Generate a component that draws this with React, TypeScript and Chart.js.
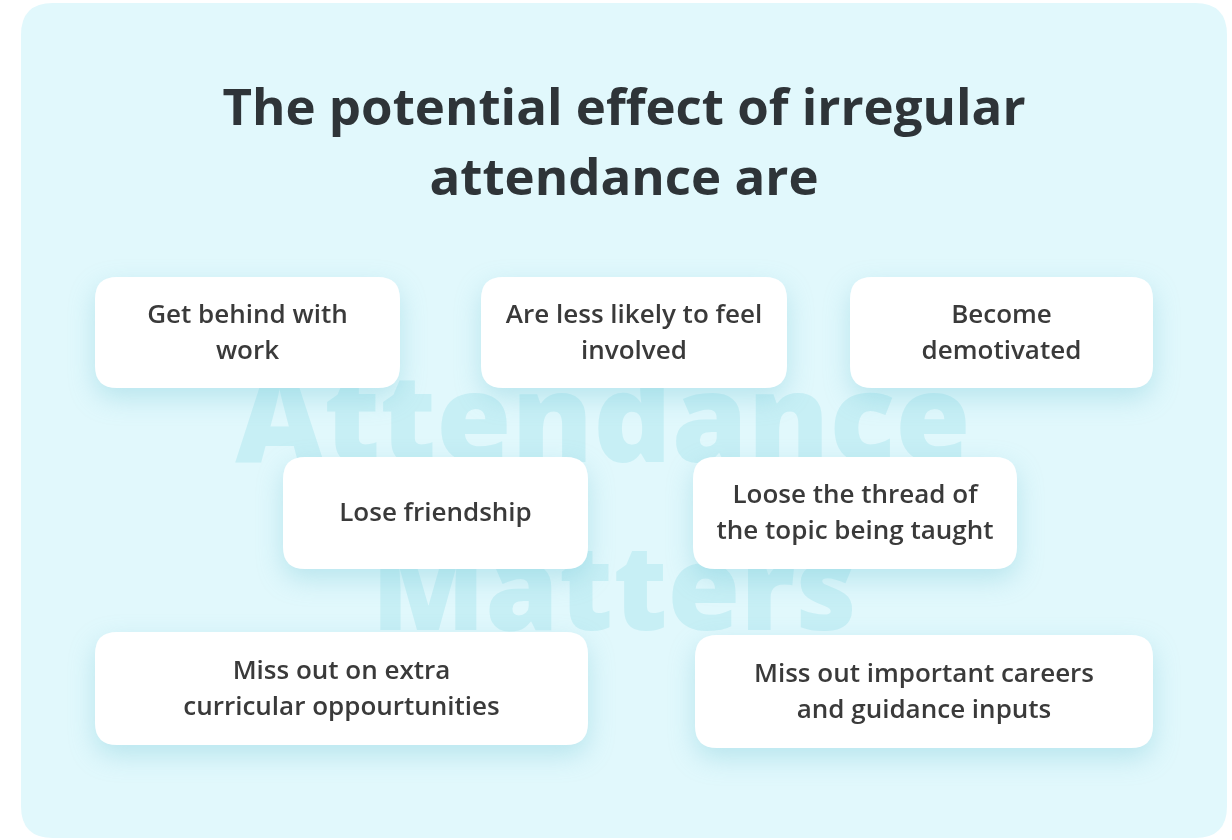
import React, { useEffect, useRef } from "react";
import { Chart, registerables } from "chart.js";

Chart.register(...registerables);

const titleLines = ["The potential effect of irregular", "attendance are"];
const watermarkLines = ["Attendance", "Matters"];

const effects = [
  ["Get behind with", "work"],
  ["Are less likely to feel", "involved"],
  ["Become", "demotivated"],
  ["Lose friendship"],
  ["Loose the thread of", "the topic being taught"],
  ["Miss out on extra", "curricular oppourtunities"],
  ["Miss out important careers", "and guidance inputs"],
];
const boxLeft = [95, 481, 850, 283, 693, 95, 695];
const boxRight = [400, 787, 1153, 588, 1017, 588, 1153];
const boxTop = [277, 277, 277, 457, 457, 632, 635];
const boxBottom = [388, 388, 388, 569, 569, 745, 748];

const W = 1232;
const H = 840;

function roundRect(ctx: CanvasRenderingContext2D, x: number, y: number, w: number, h: number, r: number) {
  ctx.beginPath();
  ctx.moveTo(x + r, y);
  ctx.lineTo(x + w - r, y);
  ctx.quadraticCurveTo(x + w, y, x + w, y + r);
  ctx.lineTo(x + w, y + h - r);
  ctx.quadraticCurveTo(x + w, y + h, x + w - r, y + h);
  ctx.lineTo(x + r, y + h);
  ctx.quadraticCurveTo(x, y + h, x, y + h - r);
  ctx.lineTo(x, y + r);
  ctx.quadraticCurveTo(x, y, x + r, y);
  ctx.closePath();
}

const infographicPlugin = {
  id: "infographic",
  beforeDatasetsDraw(chart: any) {
    const ctx: CanvasRenderingContext2D = chart.ctx;
    const xs = chart.scales.x;
    const ys = chart.scales.y;
    const px = (v: number) => xs.getPixelForValue(v);
    const py = (v: number) => ys.getPixelForValue(v);
    ctx.save();
    // panel
    ctx.fillStyle = "#ffffff";
    ctx.fillRect(0, 0, W, H);
    ctx.fillStyle = "#e1f8fc";
    roundRect(ctx, px(21), py(3), px(1227) - px(21), py(838) - py(3), 32);
    ctx.fill();

    // watermark
    ctx.fillStyle = "#c7eff5";
    ctx.textAlign = "center";
    ctx.textBaseline = "alphabetic";
    ctx.font = "800 122px 'Open Sans'";
    ctx.fillText(watermarkLines[0], px(603), py(462));
    ctx.font = "800 118px 'Open Sans'";
    ctx.fillText(watermarkLines[1], px(614), py(630));

    // title
    ctx.fillStyle = "#2e3438";
    ctx.font = "700 51px 'Open Sans'";
    ctx.fillText(titleLines[0], px(624), py(125));
    ctx.fillText(titleLines[1], px(624), py(195));

    // boxes
    for (let i = 0; i < effects.length; i++) {
      const x0 = px(boxLeft[i]);
      const x1 = px(boxRight[i]);
      const y0 = py(boxTop[i]);
      const y1 = py(boxBottom[i]);
      ctx.save();
      ctx.shadowColor = "rgba(110, 195, 212, 0.35)";
      ctx.shadowBlur = 26;
      ctx.shadowOffsetY = 10;
      ctx.fillStyle = "#ffffff";
      roundRect(ctx, x0, y0, x1 - x0, y1 - y0, 22);
      ctx.fill();
      ctx.restore();
    }
    for (let i = 0; i < effects.length; i++) {
      const x0 = px(boxLeft[i]);
      const x1 = px(boxRight[i]);
      const y0 = py(boxTop[i]);
      const y1 = py(boxBottom[i]);
      const lines = effects[i];
      const cx = (x0 + x1) / 2;
      const cy = (y0 + y1) / 2;
      const lh = 36;
      ctx.fillStyle = "#3a3a3a";
      ctx.font = "600 26px 'Open Sans'";
      ctx.textAlign = "center";
      ctx.textBaseline = "middle";
      lines.forEach((t, j) => {
        ctx.fillText(t, cx, cy + 1 + (j - (lines.length - 1) / 2) * lh);
      });
    }
    ctx.restore();
  },
};

export default function App() {
  const ref = useRef<HTMLCanvasElement>(null);
  useEffect(() => {
    if (!ref.current) return;
    const chart = new Chart(ref.current, {
      type: "scatter",
      data: {
        datasets: [
          {
            label: "effects",
            data: effects.map((_, i) => ({
              x: (boxLeft[i] + boxRight[i]) / 2,
              y: (boxTop[i] + boxBottom[i]) / 2,
            })),
            pointRadius: 0,
            pointHoverRadius: 0,
          },
        ],
      },
      options: {
        responsive: false,
        animation: false,
        layout: { padding: 0 },
        events: [],
        plugins: { legend: { display: false }, tooltip: { enabled: false }, title: { display: false } },
        scales: {
          x: { type: "linear", min: 0, max: W, display: false },
          y: { type: "linear", min: 0, max: H, reverse: true, display: false },
        },
      },
      plugins: [infographicPlugin],
    });
    return () => chart.destroy();
  }, []);
  return (
    <div style={{ position: "fixed", left: 0, top: 0, width: W, height: H, background: "#fff" }}>
      <canvas ref={ref} width={W} height={H} style={{ display: "block" }} />
    </div>
  );
}
